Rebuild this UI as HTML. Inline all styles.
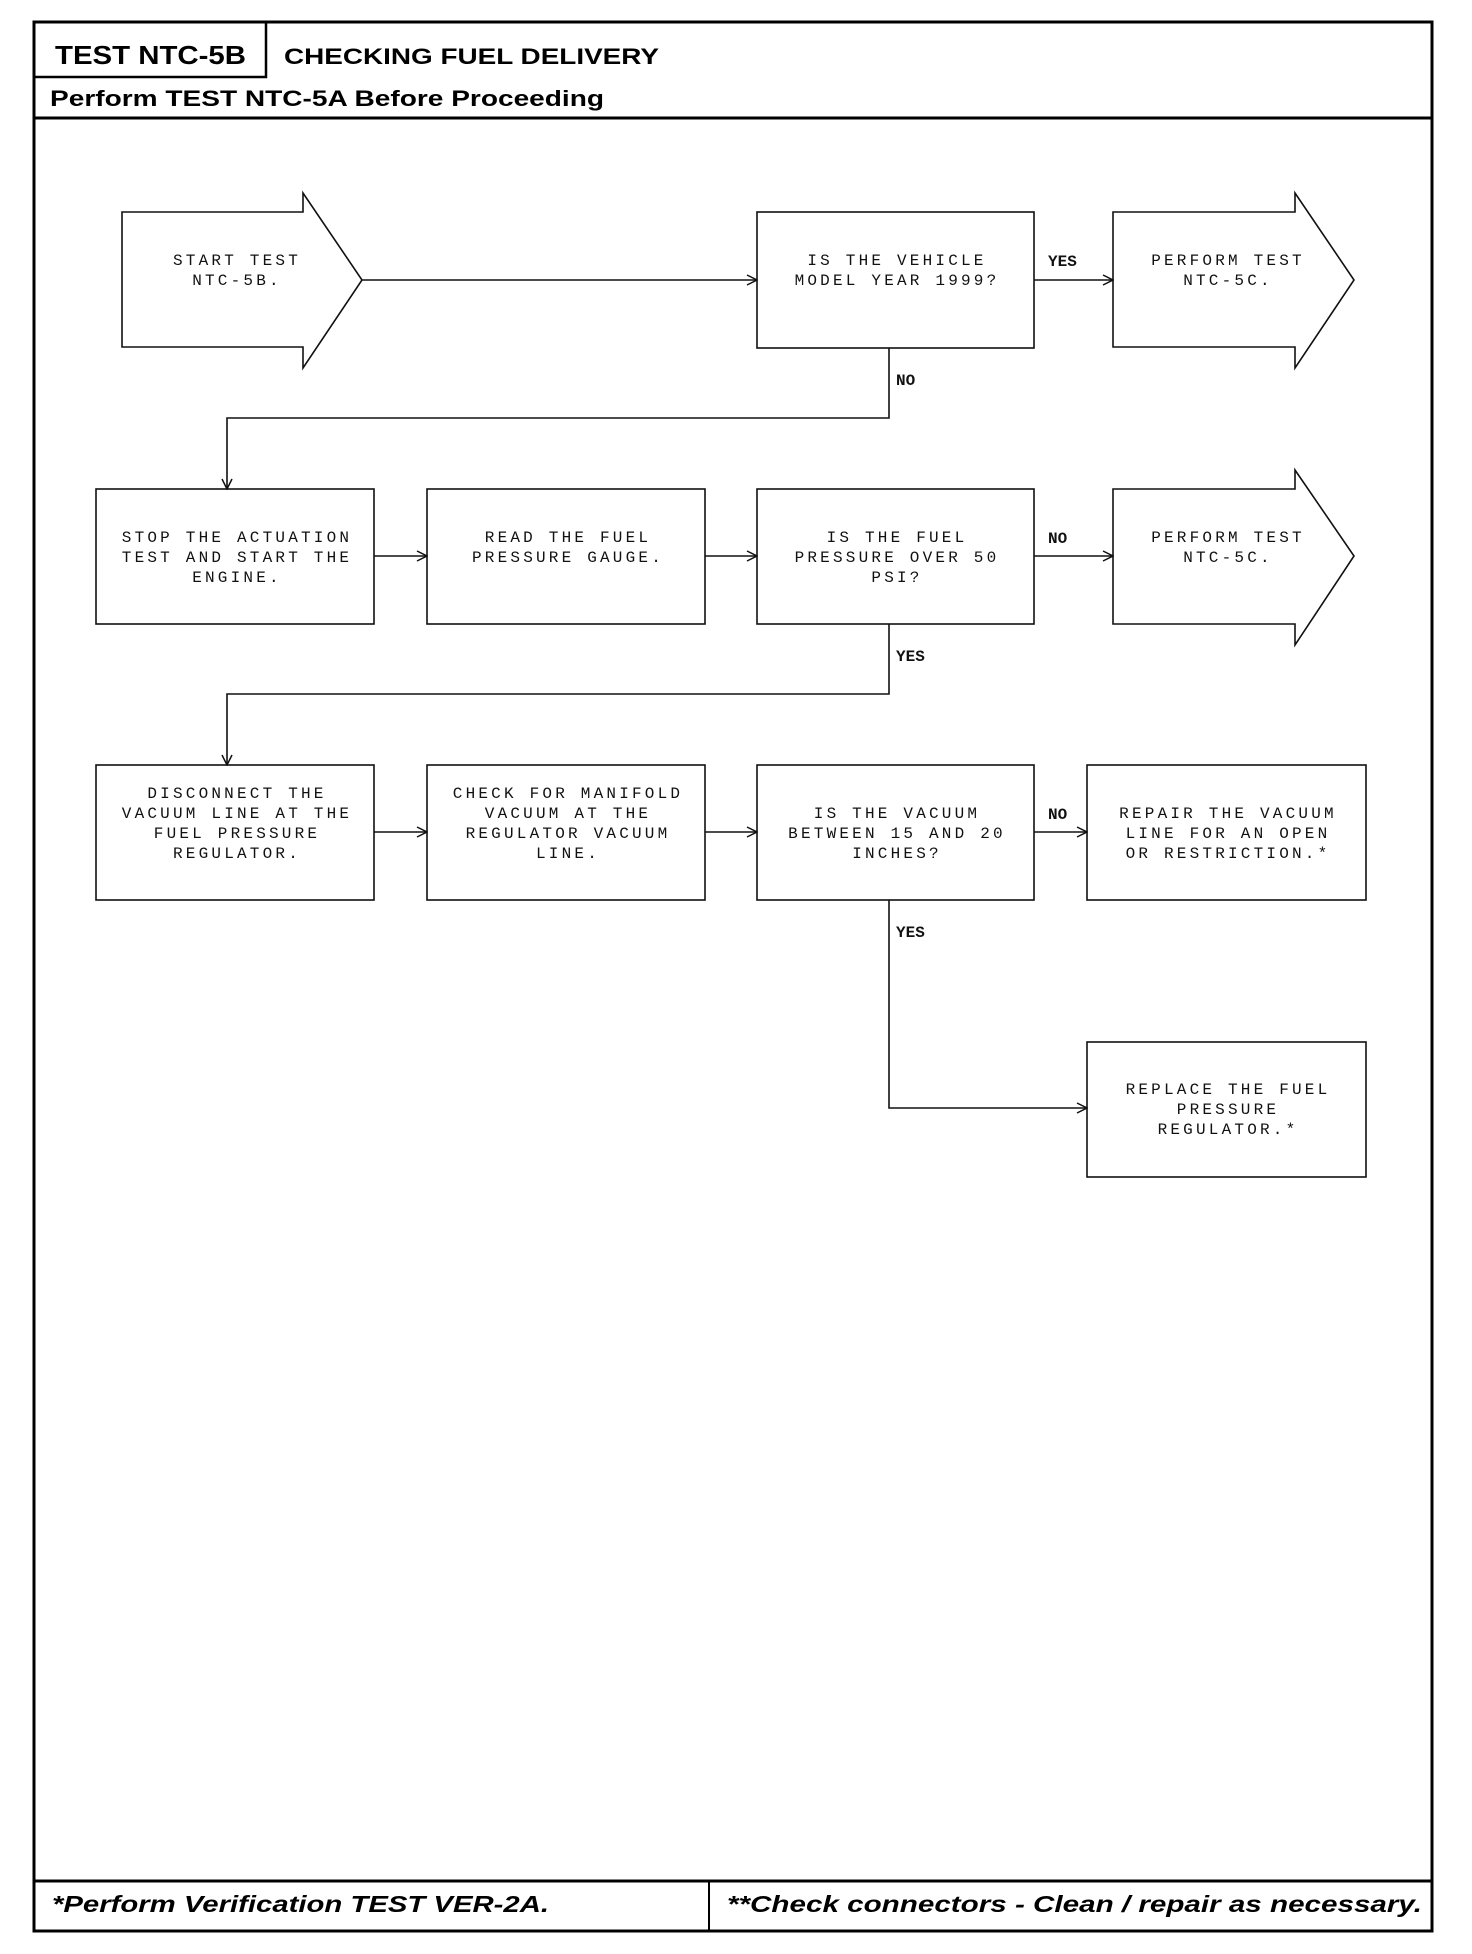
<!DOCTYPE html>
<html><head><meta charset="utf-8"><style>
html,body{margin:0;padding:0;background:#fff;}
svg{display:block;}
.t{font-family:"Liberation Mono",monospace;font-size:16px;letter-spacing:3.2px;text-anchor:middle;fill:#111;}
.l{font-family:"Liberation Mono",monospace;font-size:16px;font-weight:bold;fill:#111;}
.h{font-family:"Liberation Sans",sans-serif;font-weight:bold;fill:#000;}
</style></head><body>
<svg width="1472" height="1954" viewBox="0 0 1472 1954" xmlns="http://www.w3.org/2000/svg">
<defs><marker id="a" viewBox="0 0 12 12" refX="11" refY="6" markerWidth="12" markerHeight="12" markerUnits="userSpaceOnUse" orient="auto"><path d="M1,1 L11,6 L1,11" fill="none" stroke="#111" stroke-width="1.5"/></marker></defs>
<g fill="none" stroke="#000">
<rect x="34" y="22" width="1398" height="1909" stroke-width="3"/>
<path d="M34 77 H266 V22" stroke-width="2.5"/>
<line x1="34" y1="118" x2="1432" y2="118" stroke-width="3"/>
<line x1="34" y1="1881" x2="1432" y2="1881" stroke-width="3"/>
<line x1="709" y1="1881" x2="709" y2="1931" stroke-width="2"/>
</g>
<text class="h" x="55" y="64" font-size="26" textLength="191" lengthAdjust="spacingAndGlyphs">TEST NTC-5B</text>
<text class="h" x="284" y="64" font-size="22" textLength="375" lengthAdjust="spacingAndGlyphs">CHECKING FUEL DELIVERY</text>
<text class="h" x="50" y="106" font-size="22" textLength="554" lengthAdjust="spacingAndGlyphs">Perform TEST NTC-5A Before Proceeding</text>
<text class="h" x="52" y="1912" font-size="23" font-style="italic" textLength="497" lengthAdjust="spacingAndGlyphs">*Perform Verification TEST VER-2A.</text>
<text class="h" x="727" y="1912" font-size="23" font-style="italic" textLength="695" lengthAdjust="spacingAndGlyphs">**Check connectors - Clean / repair as necessary.</text>

<g fill="#fff" stroke="#111" stroke-width="1.6">
<path d="M122 212 H303 V193 L362 280 L303 368 V347 H122 Z"/>
<rect x="757" y="212" width="277" height="136"/>
<path d="M1113 212 H1295 V193 L1354 280 L1295 368 V347 H1113 Z"/>
<rect x="96" y="489" width="278" height="135"/>
<rect x="427" y="489" width="278" height="135"/>
<rect x="757" y="489" width="277" height="135"/>
<path d="M1113 489 H1295 V470 L1354 556 L1295 645 V624 H1113 Z"/>
<rect x="96" y="765" width="278" height="135"/>
<rect x="427" y="765" width="278" height="135"/>
<rect x="757" y="765" width="277" height="135"/>
<rect x="1087" y="765" width="279" height="135"/>
<rect x="1087" y="1042" width="279" height="135"/>
</g>

<g fill="none" stroke="#111" stroke-width="1.6" marker-end="url(#a)">
<line x1="362" y1="280" x2="757" y2="280"/>
<line x1="1034" y1="280" x2="1113" y2="280"/>
<path d="M889 348 V418 H227 V489"/>
<line x1="374" y1="556" x2="427" y2="556"/>
<line x1="705" y1="556" x2="757" y2="556"/>
<line x1="1034" y1="556" x2="1113" y2="556"/>
<path d="M889 624 V694 H227 V765"/>
<line x1="374" y1="832" x2="427" y2="832"/>
<line x1="705" y1="832" x2="757" y2="832"/>
<line x1="1034" y1="832" x2="1087" y2="832"/>
<path d="M889 900 V1108 H1087"/>
</g>

<text class="l" x="1048" y="266">YES</text>
<text class="l" x="896" y="385">NO</text>
<text class="l" x="1048" y="543">NO</text>
<text class="l" x="896" y="661">YES</text>
<text class="l" x="1048" y="819">NO</text>
<text class="l" x="896" y="937">YES</text>

<text class="t" x="237" y="265">START TEST</text>
<text class="t" x="237" y="285">NTC-5B.</text>
<text class="t" x="897" y="265">IS THE VEHICLE</text>
<text class="t" x="897" y="285">MODEL YEAR 1999?</text>
<text class="t" x="1228" y="265">PERFORM TEST</text>
<text class="t" x="1228" y="285">NTC-5C.</text>

<text class="t" x="237" y="542">STOP THE ACTUATION</text>
<text class="t" x="237" y="562">TEST AND START THE</text>
<text class="t" x="237" y="582">ENGINE.</text>
<text class="t" x="568" y="542">READ THE FUEL</text>
<text class="t" x="568" y="562">PRESSURE GAUGE.</text>
<text class="t" x="897" y="542">IS THE FUEL</text>
<text class="t" x="897" y="562">PRESSURE OVER 50</text>
<text class="t" x="897" y="582">PSI?</text>
<text class="t" x="1228" y="542">PERFORM TEST</text>
<text class="t" x="1228" y="562">NTC-5C.</text>

<text class="t" x="237" y="798">DISCONNECT THE</text>
<text class="t" x="237" y="818">VACUUM LINE AT THE</text>
<text class="t" x="237" y="838">FUEL PRESSURE</text>
<text class="t" x="237" y="858">REGULATOR.</text>
<text class="t" x="568" y="798">CHECK FOR MANIFOLD</text>
<text class="t" x="568" y="818">VACUUM AT THE</text>
<text class="t" x="568" y="838">REGULATOR VACUUM</text>
<text class="t" x="568" y="858">LINE.</text>
<text class="t" x="897" y="818">IS THE VACUUM</text>
<text class="t" x="897" y="838">BETWEEN 15 AND 20</text>
<text class="t" x="897" y="858">INCHES?</text>
<text class="t" x="1228" y="818">REPAIR THE VACUUM</text>
<text class="t" x="1228" y="838">LINE FOR AN OPEN</text>
<text class="t" x="1228" y="858">OR RESTRICTION.*</text>

<text class="t" x="1228" y="1094">REPLACE THE FUEL</text>
<text class="t" x="1228" y="1114">PRESSURE</text>
<text class="t" x="1228" y="1134">REGULATOR.*</text>
</svg>
</body></html>
